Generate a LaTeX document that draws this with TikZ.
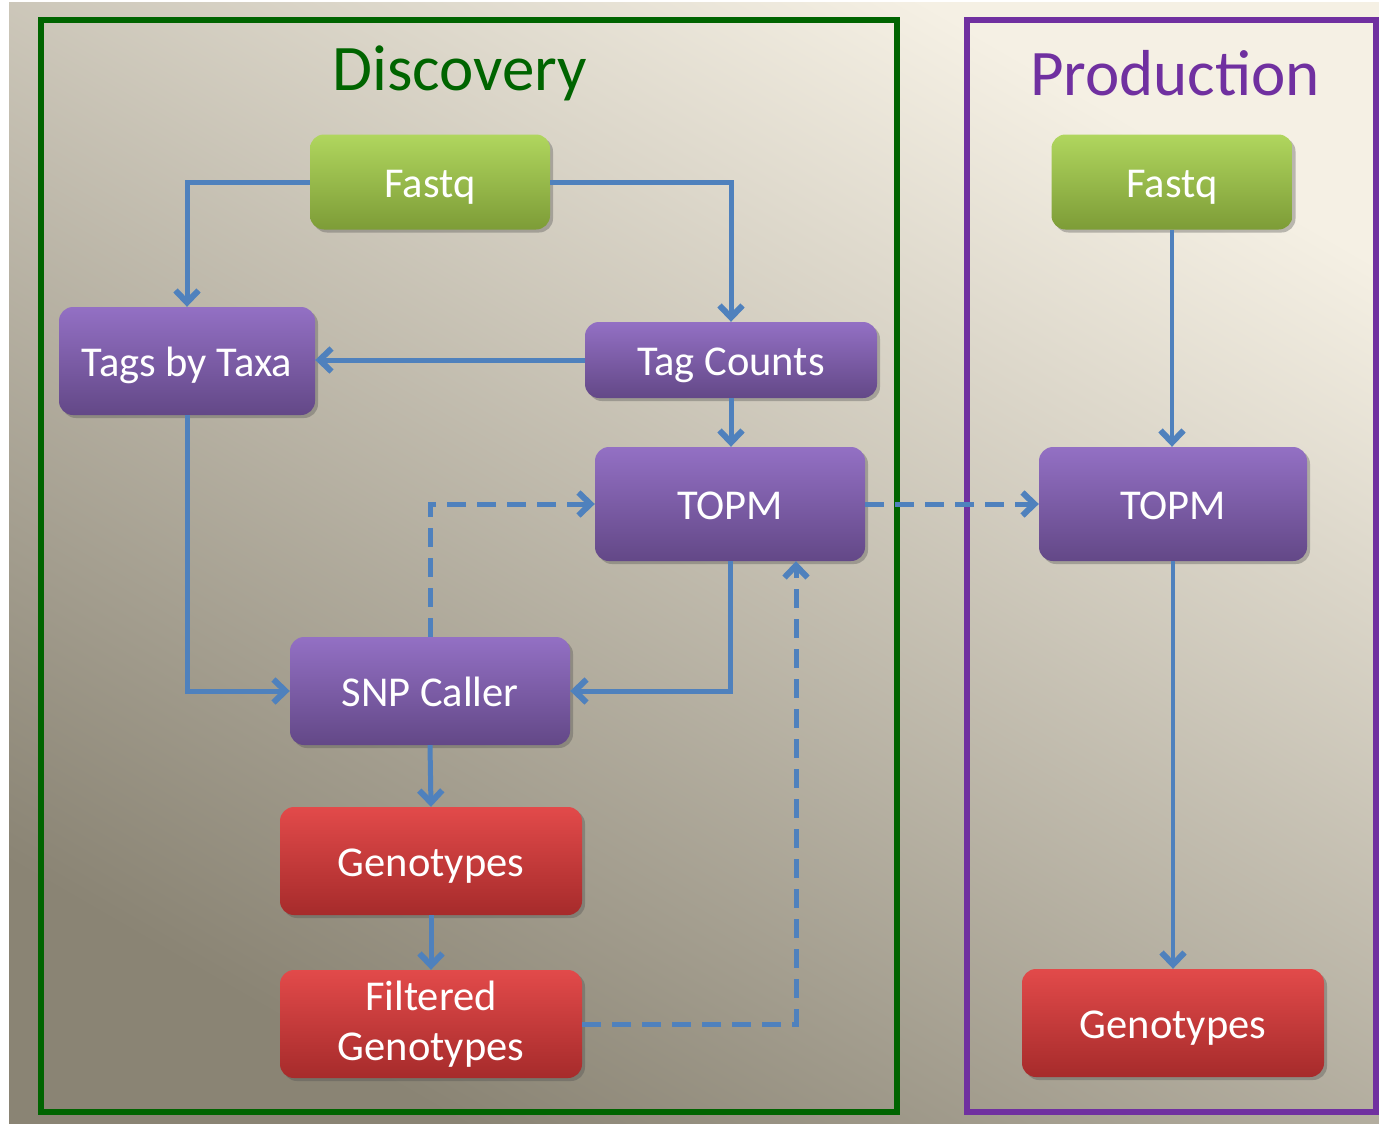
\documentclass[tikz,border=0pt]{standalone}
\usepackage{fontspec}
\setmainfont{Carlito}
\usetikzlibrary{arrows.meta,shadows}

\definecolor{flow}{HTML}{4F81BD}
\definecolor{discgreen}{HTML}{006400}
\definecolor{prodpurple}{HTML}{7030A0}
\definecolor{greentop}{HTML}{B0D65E}
\definecolor{greenmid}{HTML}{98BE47}
\definecolor{greenbot}{HTML}{7D9C37}
\definecolor{purpletop}{HTML}{9370C4}
\definecolor{purplemid}{HTML}{7B58AE}
\definecolor{purplebot}{HTML}{634887}
\definecolor{redtop}{HTML}{E24A4A}
\definecolor{redmid}{HTML}{CC3A3A}
\definecolor{redbot}{HTML}{A62B2B}
\definecolor{bglight}{HTML}{F5F0E4}
\definecolor{bgdark}{HTML}{8A8474}

\tikzset{
  boxbase/.style={rounded corners=14pt, inner sep=0pt, text=white,
    font=\fontsize{42.5}{50}\selectfont, text height=30pt, text depth=0pt,
    drop shadow={opacity=0.35, shadow xshift=3pt, shadow yshift=-3pt, fill=black!70}},
  twolines/.style={align=center, text height=, text depth=},
  greenbox/.style={boxbase, top color=greentop, middle color=greenmid, bottom color=greenbot},
  purplebox/.style={boxbase, top color=purpletop, middle color=purplemid, bottom color=purplebot},
  redbox/.style={boxbase, top color=redtop, middle color=redmid, bottom color=redbot},
  flowline/.style={draw=flow, line width=5pt, line join=miter,
    -{Straight Barb[length=12pt, width=23pt, line width'=6pt]}},
  dashline/.style={flowline, dash pattern=on 19pt off 11pt},
  title/.style={font=\fontsize{65}{72}\selectfont},
  frame/.style={line width=6pt}
}

\begin{document}
\begin{tikzpicture}[x=1pt, y=-1pt]
  \useasboundingbox (0,0) rectangle (1379,1124);

  % background
  \shade[top color=bglight, bottom color=bgdark, shading angle=-30] (9,3) rectangle (1379,1124);

  % stage frames and titles
  \draw[frame, draw=discgreen] (41,20) rectangle (897,1112);
  \draw[frame, draw=prodpurple] (967,20) rectangle (1376,1112);
  \node[title, text=discgreen] (dtitle) at (460,73) {Discovery};
  \node[title, text=prodpurple] (ptitle) at (1175,73) {Production};

  % discovery pipeline
  \node[greenbox, minimum width=240pt, minimum height=95pt] (fq) at (430,182) {Fastq};
  \node[purplebox, minimum width=256pt, minimum height=108pt] (tt) at (187,361) {Tags by Taxa};
  \node[purplebox, minimum width=292pt, minimum height=76pt] (tc) at (731,360) {Tag Counts};
  \node[purplebox, minimum width=270pt, minimum height=114pt] (td) at (730,504) {TOPM};
  \node[purplebox, minimum width=280pt, minimum height=108pt] (snp) at (430,691) {SNP Caller};
  \node[redbox, minimum width=302pt, minimum height=108pt] (gd) at (431,861) {Genotypes};
  \node[redbox, twolines, minimum width=302pt, minimum height=108pt] (fg) at (431,1024) {Filtered\\Genotypes};

  % production pipeline
  \node[greenbox, minimum width=241pt, minimum height=95pt] (fp) at (1172,182) {Fastq};
  \node[purplebox, minimum width=268pt, minimum height=114pt] (tp) at (1173,504) {TOPM};
  \node[redbox, minimum width=302pt, minimum height=108pt] (gp) at (1173,1023) {Genotypes};

  % discovery connectors
  \draw[flowline] (fq.west) -| (tt.north);
  \draw[flowline] (fq.east) -| (tc.north);
  \draw[flowline] (tc.west) -- (tc.west -| tt.east);
  \draw[flowline] (tc.south) -- (tc.south |- td.north);
  \draw[flowline] (tt.south) |- (snp.west);
  \draw[flowline] (td.south) |- (snp.east);
  \draw[flowline] (snp.south) -- (gd.north);
  \draw[flowline] (gd.south) -- (fg.north);
  \draw[dashline] (snp.north) |- (td.west);
  \draw[dashline] (fg.east) -| ([xshift=66pt]td.south);

  % hand-over and production connectors
  \draw[dashline] (td.east) -- (tp.west);
  \draw[flowline, line width=4pt] (fp.south) -- (fp.south |- tp.north);
  \draw[flowline, line width=4pt] (tp.south) -- (tp.south |- gp.north);
\end{tikzpicture}
\end{document}
